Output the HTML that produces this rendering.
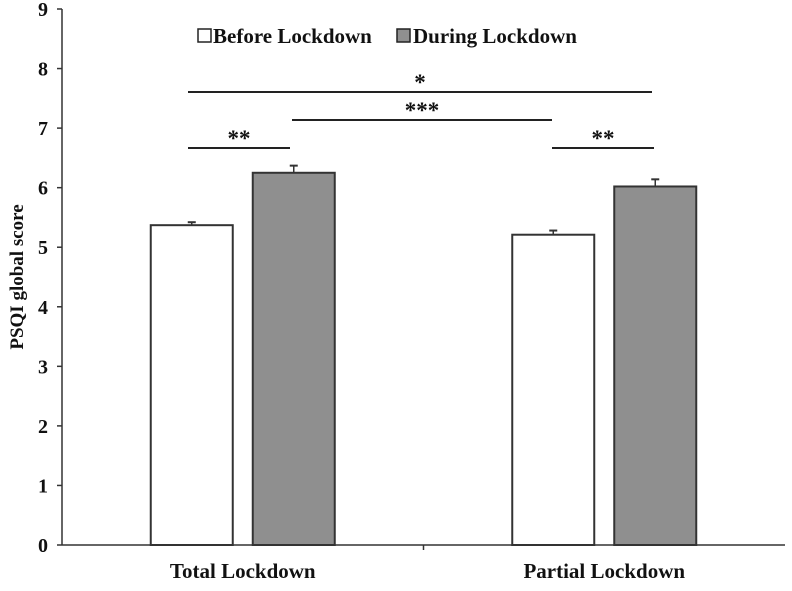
<!DOCTYPE html>
<html><head><meta charset="utf-8"><style>
body{margin:0;background:#fff}
text{font-family:"Liberation Serif",serif;font-weight:bold;fill:#111}
</style></head><body>
<svg width="792" height="586" viewBox="0 0 792 586">
<g id="axes"></g><g id="bars"></g><g id="sig"></g>
<g>
<rect x="198" y="29" width="13" height="13" fill="#fff" stroke="#222" stroke-width="1.5"/>
<text x="213" y="43" font-size="21">Before Lockdown</text>
<rect x="397" y="29" width="13" height="13" fill="#8f8f8f" stroke="#222" stroke-width="1.5"/>
<text x="413" y="43" font-size="21">During Lockdown</text>
</g>
</svg>
<script>
const categories=["Total Lockdown","Partial Lockdown"];
const beforeVals=[5.37,5.21];
const duringVals=[6.25,6.02];
const beforeErr=[0.05,0.07];
const duringErr=[0.12,0.12];
const yTicks=[0,1,2,3,4,5,6,7,8,9];
const NS="http://www.w3.org/2000/svg";
const y0=545,yTop=9,yMax=9;
const y=v=>y0-(y0-yTop)*v/yMax;
const xLeft=62,xRight=785;
const groupW=(xRight-xLeft)/categories.length;
function mk(p,tag,a){const e=document.createElementNS(NS,tag);for(const k in a)e.setAttribute(k,a[k]);p.appendChild(e);return e;}
const axes=document.getElementById('axes'),bars=document.getElementById('bars'),sig=document.getElementById('sig');
let l=mk(axes,'line',{x1:xLeft,y1:y(9),x2:xLeft,y2:y0,stroke:'#333','stroke-width':1.5});


l=mk(axes,'line',{x1:xLeft,y1:y0,x2:xRight,y2:y0,stroke:'#333','stroke-width':1.5});


yTicks.forEach(t=>{
 mk(axes,'line',{x1:xLeft-5,y1:y(t),x2:xLeft,y2:y(t),stroke:'#333','stroke-width':1.5});
 const tx=mk(axes,'text',{x:xLeft-14,y:y(t)+7,'font-size':20,'text-anchor':'end'});tx.textContent=t;
 
 
});
mk(axes,'line',{x1:xLeft+groupW,y1:y0,x2:xLeft+groupW,y2:y0+5,stroke:'#333','stroke-width':1.5});
const yt=mk(axes,'text',{x:0,y:0,'font-size':19,'text-anchor':'middle',transform:`translate(23,${y(4.5)}) rotate(-90)`});
yt.textContent="PSQI global score";


const bw=82,gap=20;
categories.forEach((c,i)=>{
 const cx=xLeft+groupW*(i+0.5);
 const ct=mk(axes,'text',{x:cx,y:578,'font-size':21,'text-anchor':'middle'});ct.textContent=c;
 
 
 [[beforeVals,beforeErr,'#fff',cx-gap/2-bw,'before'],[duringVals,duringErr,'#8f8f8f',cx+gap/2,'during']].forEach(([v,e,f,x,n])=>{
  const r=mk(bars,'rect',{x:x,y:y(v[i]),width:bw,height:y0-y(v[i]),fill:f,stroke:'#333','stroke-width':2});
  
  
  const mx=x+bw/2;
  mk(bars,'line',{x1:mx,y1:y(v[i]),x2:mx,y2:y(v[i]+e[i]),stroke:'#333','stroke-width':1.5});
  mk(bars,'line',{x1:mx-4,y1:y(v[i]+e[i]),x2:mx+4,y2:y(v[i]+e[i]),stroke:'#333','stroke-width':2});
 });
});
const sigLines=[[188,652,92,'*'],[292,552,120,'***'],[188,290,148,'**'],[552,654,148,'**']];
sigLines.forEach(([a,b,yy,s])=>{
 const ln=mk(sig,'line',{x1:a,y1:yy,x2:b,y2:yy,stroke:'#222','stroke-width':2});
 
 
 const t=mk(sig,'text',{x:(a+b)/2,y:yy-2,'font-size':23,'text-anchor':'middle'});t.textContent=s;
 
 
});
</script>
</body></html>
